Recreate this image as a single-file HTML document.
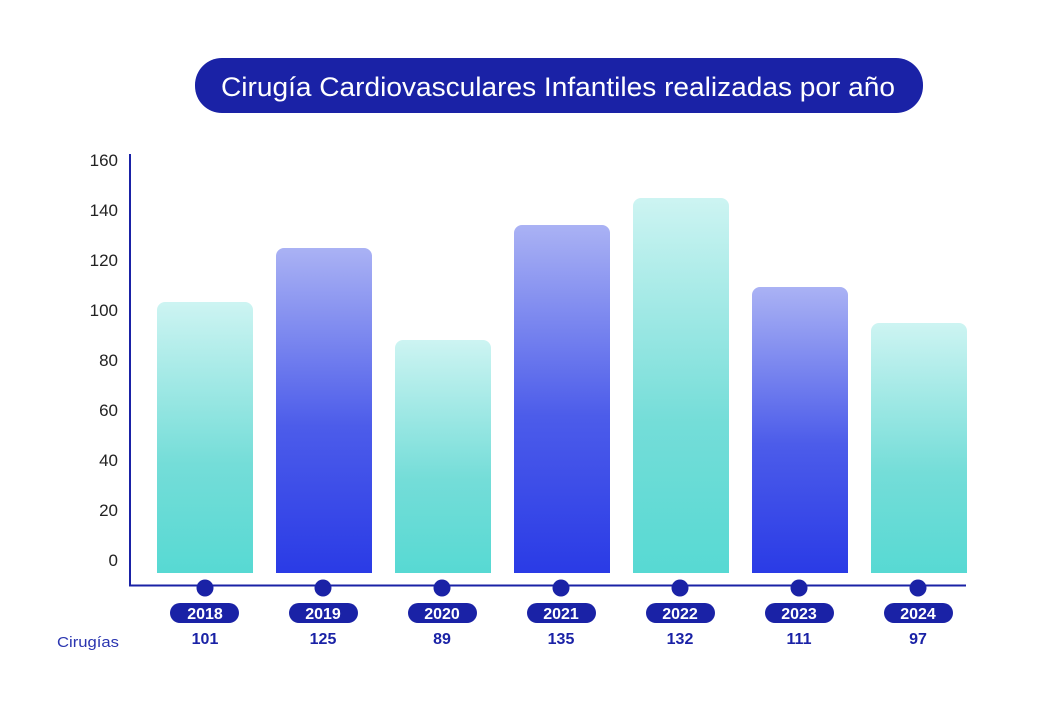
<!DOCTYPE html>
<html><head><meta charset="utf-8"><style>
body{margin:0;background:#fff;width:1042px;height:708px;overflow:hidden;font-family:"Liberation Sans",sans-serif}
</style></head><body>
<svg width="1042" height="708" viewBox="0 0 1042 708" xmlns="http://www.w3.org/2000/svg">
<defs>
<linearGradient id="t" x1="0" y1="0" x2="0" y2="1"><stop offset="0" stop-color="#cdf4f2"/><stop offset="0.6" stop-color="#74ddd8"/><stop offset="1" stop-color="#57d9d3"/></linearGradient>
<linearGradient id="b" x1="0" y1="0" x2="0" y2="1"><stop offset="0" stop-color="#aab2f4"/><stop offset="0.55" stop-color="#4c5cea"/><stop offset="1" stop-color="#2a3be6"/></linearGradient>
</defs>
<rect x="195" y="58" width="728" height="55" rx="27" fill="#1a22a6"/>
<text x="221" y="96" fill="#fff" font-size="27" textLength="674" lengthAdjust="spacingAndGlyphs">Cirugía Cardiovasculares Infantiles realizadas por año</text>
<g font-size="17" fill="#222" text-anchor="end">
<text x="118" y="166">160</text><text x="118" y="216">140</text><text x="118" y="266">120</text><text x="118" y="316">100</text>
<text x="118" y="366">80</text><text x="118" y="416">60</text><text x="118" y="466">40</text><text x="118" y="516">20</text><text x="118" y="566">0</text>
</g>
<path d="M157 573V310a8 8 0 0 1 8-8h80a8 8 0 0 1 8 8V573Z" fill="url(#t)"/>
<path d="M276 573V256a8 8 0 0 1 8-8h80a8 8 0 0 1 8 8V573Z" fill="url(#b)"/>
<path d="M395 573V348a8 8 0 0 1 8-8h80a8 8 0 0 1 8 8V573Z" fill="url(#t)"/>
<path d="M514 573V233a8 8 0 0 1 8-8h80a8 8 0 0 1 8 8V573Z" fill="url(#b)"/>
<path d="M633 573V206a8 8 0 0 1 8-8h80a8 8 0 0 1 8 8V573Z" fill="url(#t)"/>
<path d="M752 573V295a8 8 0 0 1 8-8h80a8 8 0 0 1 8 8V573Z" fill="url(#b)"/>
<path d="M871 573V331a8 8 0 0 1 8-8h80a8 8 0 0 1 8 8V573Z" fill="url(#t)"/>
<path d="M130 154V585.5H966" fill="none" stroke="#1a22a6" stroke-width="2"/>
<g fill="#1a22a6">
<circle cx="205" cy="588" r="8.5"/><circle cx="323" cy="588" r="8.5"/><circle cx="442" cy="588" r="8.5"/><circle cx="561" cy="588" r="8.5"/><circle cx="680" cy="588" r="8.5"/><circle cx="799" cy="588" r="8.5"/><circle cx="918" cy="588" r="8.5"/>
<rect x="170" y="603" width="69" height="20" rx="10"/><rect x="289" y="603" width="69" height="20" rx="10"/><rect x="408" y="603" width="69" height="20" rx="10"/><rect x="527" y="603" width="69" height="20" rx="10"/><rect x="646" y="603" width="69" height="20" rx="10"/><rect x="765" y="603" width="69" height="20" rx="10"/><rect x="884" y="603" width="69" height="20" rx="10"/>
</g>
<g fill="#fff" font-size="16" font-weight="bold" text-anchor="middle">
<text x="205" y="619">2018</text><text x="323" y="619">2019</text><text x="442" y="619">2020</text><text x="561" y="619">2021</text><text x="680" y="619">2022</text><text x="799" y="619">2023</text><text x="918" y="619">2024</text>
</g>
<g fill="#1a22a6" font-size="16" font-weight="bold" text-anchor="middle">
<text x="205" y="644">101</text><text x="323" y="644">125</text><text x="442" y="644">89</text><text x="561" y="644">135</text><text x="680" y="644">132</text><text x="799" y="644">111</text><text x="918" y="644">97</text>
</g>
<text x="57" y="647" fill="#2a35b0" font-size="15" textLength="62" lengthAdjust="spacingAndGlyphs">Cirugías</text>
</svg>
</body></html>
